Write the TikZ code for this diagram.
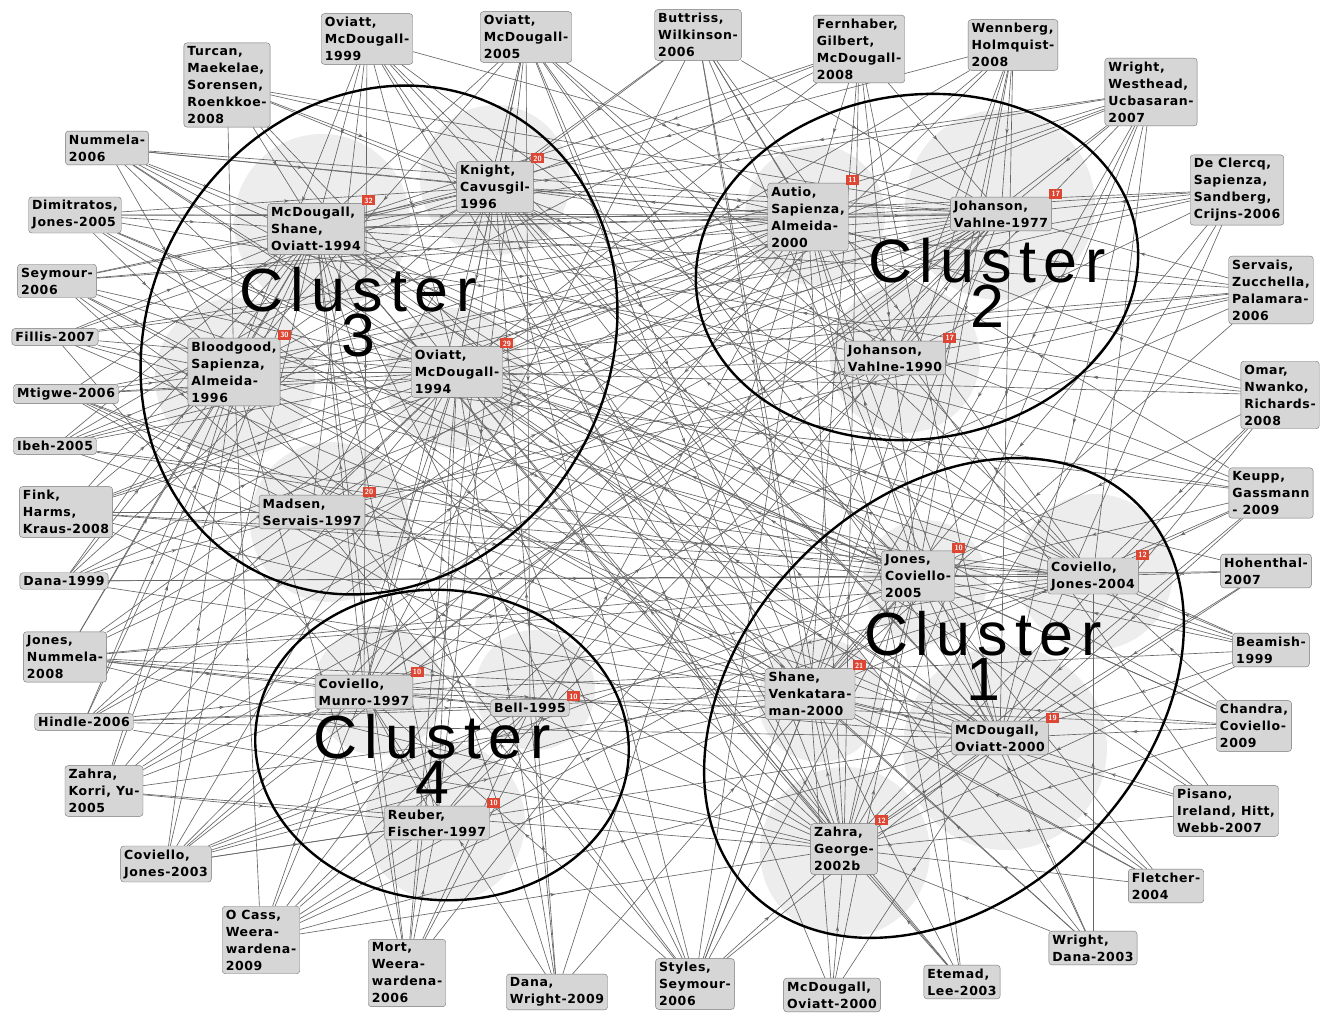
\documentclass[tikz,border=0pt]{standalone}
\usepackage{fontspec}
\usepackage{tikz}
\usetikzlibrary{arrows.meta,decorations.markings}
\newfontfamily\boxfont{DejaVu Sans}[LetterSpace=5]
\newfontfamily\clusterfont{Liberation Sans}[LetterSpace=12]
\definecolor{badgered}{RGB}{222,70,52}
\pgfdeclarelayer{halos}
\pgfdeclarelayer{links}
\pgfsetlayers{halos,links,main}
\tikzset{
  paper/.style={draw=black!55, fill=black!16, rounded corners=3pt, align=left, inner sep=3.5pt,
    font=\boxfont\bfseries\fontsize{12.5}{17}\selectfont},
  hits/.style={fill=badgered, text=white, inner sep=1pt, minimum width=13pt, minimum height=10pt,
    font=\sffamily\bfseries\fontsize{7.5}{7.5}\selectfont},
  cite/.style={draw=black!60, line width=0.65pt, postaction={decorate},
    decoration={markings, mark=at position 0.5 with {\arrow[black!60]{Stealth[length=5pt,width=3.5pt]}}}},
  halo/.style={fill=black!7},
  cluster/.style={draw=black, line width=2.4pt},
  clusterlabel/.style={align=center, inner sep=0pt, font=\clusterfont\fontsize{61}{45}\selectfont}
}

\begin{document}
\begin{tikzpicture}[x=1pt, y=-1pt]
			%%%%% START %%%%%
			\useasboundingbox (0,0) rectangle (1326,1014);
			
			%% cluster 3
			\node[paper] (mso) at (316,229) {McDougall,\\Shane,\\Oviatt-1994};
			\node[paper] (knig) at (495,187) {Knight,\\Cavusgil-\\1996};
			\node[paper] (bloo) at (234,372) {Bloodgood,\\Sapienza,\\Almeida-\\1996};
			\node[paper] (ov94) at (457,372) {Oviatt,\\McDougall-\\1994};
			\node[paper] (mads) at (312,512) {Madsen,\\Servais-1997};
			%% cluster 2
			\node[paper] (autio) at (808,217) {Autio,\\Sapienza,\\Almeida-\\2000};
			\node[paper] (jv77) at (1001,214) {Johanson,\\Vahlne-1977};
			\node[paper] (jv90) at (895,358) {Johanson,\\Vahlne-1990};
			%% cluster 1
			\node[paper] (jc05) at (918,576) {Jones,\\Coviello-\\2005};
			\node[paper] (cj04) at (1093,576) {Coviello,\\Jones-2004};
			\node[paper] (shan) at (810,694) {Shane,\\Venkatara-\\man-2000};
			\node[paper] (mo00) at (1000,738) {McDougall,\\Oviatt-2000};
			\node[paper] (zag) at (844,849) {Zahra,\\George-\\2002b};
			%% cluster 4
			\node[paper] (cmun) at (364,692) {Coviello,\\Munro-1997};
			\node[paper] (bell) at (530,708) {Bell-1995};
			\node[paper] (reub) at (437,823) {Reuber,\\Fischer-1997};
			
			%% citing papers
			\node[paper] (ov99) at (367,39) {Oviatt,\\McDougall-\\1999};
			\node[paper] (ov05) at (526,37) {Oviatt,\\McDougall-\\2005};
			\node[paper] (butt) at (698,35) {Buttriss,\\Wilkinson-\\2006};
			\node[paper] (fern) at (859,49) {Fernhaber,\\Gilbert,\\McDougall-\\2008};
			\node[paper] (wenn) at (1013,45) {Wennberg,\\Holmquist-\\2008};
			\node[paper] (wwu) at (1151,92) {Wright,\\Westhead,\\Ucbasaran-\\2007};
			\node[paper] (decl) at (1237,190) {De Clercq,\\Sapienza,\\Sandberg,\\Crijns-2006};
			\node[paper] (serv) at (1271,290) {Servais,\\Zucchella,\\Palamara-\\2006};
			\node[paper] (omar) at (1280,395) {Omar,\\Nwanko,\\Richards-\\2008};
			\node[paper] (keupp) at (1271,493) {Keupp,\\Gassmann\\- 2009};
			\node[paper] (hohen) at (1266,571) {Hohenthal-\\2007};
			\node[paper] (beam) at (1271,650) {Beamish-\\1999};
			\node[paper] (chan) at (1254,726) {Chandra,\\Coviello-\\2009};
			\node[paper] (pis) at (1226,811) {Pisano,\\Ireland, Hitt,\\Webb-2007};
			\node[paper] (flet) at (1166,886) {Fletcher-\\2004};
			\node[paper] (wda) at (1093,948) {Wright,\\Dana-2003};
			\node[paper] (etem) at (962,982) {Etemad,\\Lee-2003};
			\node[paper] (mob) at (832,995) {McDougall,\\Oviatt-2000};
			\node[paper] (styl) at (695,984) {Styles,\\Seymour-\\2006};
			\node[paper] (dwr) at (557,992) {Dana,\\Wright-2009};
			\node[paper] (mort) at (407,973) {Mort,\\Weera-\\wardena-\\2006};
			\node[paper] (ocass) at (261,940) {O Cass,\\Weera-\\wardena-\\2009};
			\node[paper] (cj03) at (166,864) {Coviello,\\Jones-2003};
			\node[paper] (zky) at (104,791) {Zahra,\\Korri, Yu-\\2005};
			\node[paper] (hind) at (84,722) {Hindle-2006};
			\node[paper] (jnum) at (65,657) {Jones,\\Nummela-\\2008};
			\node[paper] (dana) at (64,581) {Dana-1999};
			\node[paper] (fink) at (66,512) {Fink,\\Harms,\\Kraus-2008};
			\node[paper] (ibeh) at (55,446) {Ibeh-2005};
			\node[paper] (mtig) at (66,394) {Mtigwe-2006};
			\node[paper] (fill) at (55,337) {Fillis-2007};
			\node[paper] (seym) at (57,281) {Seymour-\\2006};
			\node[paper] (dimi) at (75,215) {Dimitratos,\\Jones-2005};
			\node[paper] (numm) at (107,148) {Nummela-\\2006};
			\node[paper] (turc) at (227,85) {Turcan,\\Maekelae,\\Sorensen,\\Roenkkoe-\\2008};
			
			%% citation counts
			\node[hits] at ([xshift=4pt,yshift=3pt]mso.north east) {32};
			\node[hits] at ([xshift=4pt,yshift=3pt]knig.north east) {20};
			\node[hits] at ([xshift=4pt,yshift=3pt]bloo.north east) {30};
			\node[hits] at ([xshift=4pt,yshift=3pt]ov94.north east) {29};
			\node[hits] at ([xshift=4pt,yshift=3pt]mads.north east) {20};
			\node[hits] at ([xshift=4pt,yshift=3pt]autio.north east) {11};
			\node[hits] at ([xshift=4pt,yshift=3pt]jv77.north east) {17};
			\node[hits] at ([xshift=4pt,yshift=3pt]jv90.north east) {17};
			\node[hits] at ([xshift=4pt,yshift=3pt]jc05.north east) {10};
			\node[hits] at ([xshift=4pt,yshift=3pt]cj04.north east) {12};
			\node[hits] at ([xshift=4pt,yshift=3pt]shan.north east) {21};
			\node[hits] at ([xshift=4pt,yshift=3pt]mo00.north east) {19};
			\node[hits] at ([xshift=4pt,yshift=3pt]zag.north east) {12};
			\node[hits] at ([xshift=4pt,yshift=3pt]cmun.north east) {10};
			\node[hits] at ([xshift=4pt,yshift=3pt]bell.north east) {10};
			\node[hits] at ([xshift=4pt,yshift=3pt]reub.north east) {10};
			
			%% clusters
			\draw[cluster, rotate around={60:(379,340)}] (379,340) ellipse [x radius=262pt, y radius=230pt];
			\draw[cluster, rotate around={8:(917,267)}] (917,267) ellipse [x radius=222pt, y radius=172pt];
			\draw[cluster, rotate around={45:(944,698)}] (944,698) ellipse [x radius=274pt, y radius=200pt];
			\draw[cluster, rotate around={-5:(442,745)}] (442,745) ellipse [x radius=187pt, y radius=155pt];
			\node[clusterlabel] (lab3) at (358,312) {Cluster\\3};
			\node[clusterlabel] (lab2) at (987,283) {Cluster\\2};
			\node[clusterlabel] (lab1) at (983,656) {Cluster\\1};
			\node[clusterlabel] (lab4) at (432,759) {Cluster\\4};
			
			\begin{pgfonlayer}{halos}
			\fill[halo] (322,222) circle (88pt);
			\fill[halo] (495,180) circle (75pt);
			\fill[halo] (235,378) circle (80pt);
			\fill[halo] (455,378) circle (70pt);
			\fill[halo] (330,522) circle (80pt);
			\fill[halo] (815,215) circle (70pt);
			\fill[halo] (1000,205) circle (95pt);
			\fill[halo] (905,358) circle (75pt);
			\fill[halo] (925,582) circle (62pt);
			\fill[halo] (1095,572) circle (78pt);
			\fill[halo] (820,700) circle (62pt);
			\fill[halo] (1005,748) circle (102pt);
			\fill[halo] (845,852) circle (85pt);
			\fill[halo] (378,690) circle (65pt);
			\fill[halo] (535,690) circle (60pt);
			\fill[halo] (445,822) circle (80pt);
			\end{pgfonlayer}
			
			\begin{pgfonlayer}{links}
			\draw (ov99) edge[cite] (mso) edge[cite] (bloo) edge[cite] (ov94) edge[cite] (mads) edge[cite] (jv77) edge[cite] (zag) edge[cite] (shan) edge[cite] (cmun) edge[cite] (jc05) edge[cite] (cj04) edge[cite] (mo00);
			\draw (ov05) edge[cite] (mso) edge[cite] (knig) edge[cite] (ov94) edge[cite] (bloo) edge[cite] (autio) edge[cite] (jv90) edge[cite] (mo00) edge[cite] (shan) edge[cite] (reub) edge[cite] (zag) edge[cite] (jc05) edge[cite] (cj04) edge[cite] (cmun) edge[cite] (bell);
			\draw (butt) edge[cite] (jv77) edge[cite] (jv90) edge[cite] (mo00) edge[cite] (autio) edge[cite] (bloo) edge[cite] (knig) edge[cite] (zag) edge[cite] (shan) edge[cite] (cj04) edge[cite] (cmun);
			\draw (fern) edge[cite] (autio) edge[cite] (jv77) edge[cite] (mso) edge[cite] (ov94) edge[cite] (knig) edge[cite] (mo00) edge[cite] (bloo) edge[cite] (shan) edge[cite] (zag) edge[cite] (jc05);
			\draw (wenn) edge[cite] (jv77) edge[cite] (jv90) edge[cite] (autio) edge[cite] (mso) edge[cite] (ov94) edge[cite] (shan) edge[cite] (mo00) edge[cite] (zag) edge[cite] (jc05) edge[cite] (cmun);
			\draw (wwu) edge[cite] (autio) edge[cite] (jv77) edge[cite] (jv90) edge[cite] (mso) edge[cite] (ov94) edge[cite] (shan) edge[cite] (zag) edge[cite] (mo00) edge[cite] (knig) edge[cite] (jc05) edge[cite] (cj04) edge[cite] (bloo) edge[cite] (cmun);
			\draw (decl) edge[cite] (jv77) edge[cite] (autio) edge[cite] (ov94) edge[cite] (jv90) edge[cite] (mo00) edge[cite] (mso) edge[cite] (bloo) edge[cite] (shan) edge[cite] (zag);
			\draw (serv) edge[cite] (jv77) edge[cite] (mads) edge[cite] (ov94) edge[cite] (bloo) edge[cite] (jv90) edge[cite] (shan) edge[cite] (mso) edge[cite] (cmun) edge[cite] (knig);
			\draw (omar) edge[cite] (cj04) edge[cite] (jc05) edge[cite] (mso) edge[cite] (ov94) edge[cite] (jv90) edge[cite] (mo00) edge[cite] (zag) edge[cite] (autio);
			\draw (keupp) edge[cite] (ov94) edge[cite] (mso) edge[cite] (jc05) edge[cite] (cj04) edge[cite] (autio) edge[cite] (knig) edge[cite] (mo00) edge[cite] (shan) edge[cite] (zag) edge[cite] (bloo);
			\draw (hohen) edge[cite] (cj04) edge[cite] (jc05) edge[cite] (mo00) edge[cite] (zag) edge[cite] (ov94);
			\draw (beam) edge[cite] (jc05) edge[cite] (mso) edge[cite] (ov94) edge[cite] (bloo) edge[cite] (cj04) edge[cite] (mo00) edge[cite] (zag) edge[cite] (cmun);
			\draw (chan) edge[cite] (mo00) edge[cite] (cj04) edge[cite] (jc05) edge[cite] (shan) edge[cite] (zag) edge[cite] (cmun) edge[cite] (ov94) edge[cite] (mso);
			\draw (pis) edge[cite] (mo00) edge[cite] (zag) edge[cite] (shan) edge[cite] (mso) edge[cite] (jc05) edge[cite] (autio);
			\draw (flet) edge[cite] (mo00) edge[cite] (zag) edge[cite] (shan) edge[cite] (jc05) edge[cite] (ov94) edge[cite] (bloo);
			\draw (wda) edge[cite] (mo00) edge[cite] (zag) edge[cite] (jc05) edge[cite] (shan) edge[cite] (cj04) edge[cite] (knig) edge[cite] (ov94);
			\draw (etem) edge[cite] (zag) edge[cite] (mso) edge[cite] (ov94) edge[cite] (shan) edge[cite] (jc05) edge[cite] (autio);
			\draw (mob) edge[cite] (zag) edge[cite] (shan) edge[cite] (mo00) edge[cite] (jc05) edge[cite] (knig);
			\draw (styl) edge[cite] (bloo) edge[cite] (mso) edge[cite] (ov94) edge[cite] (cmun) edge[cite] (shan) edge[cite] (zag) edge[cite] (knig) edge[cite] (mads) edge[cite] (autio) edge[cite] (jv77) edge[cite] (jv90) edge[cite] (mo00) edge[cite] (jc05);
			\draw (dwr) edge[cite] (cmun) edge[cite] (bell) edge[cite] (mso) edge[cite] (jc05) edge[cite] (ov94) edge[cite] (knig) edge[cite] (autio);
			\draw (mort) edge[cite] (cmun) edge[cite] (reub) edge[cite] (bell) edge[cite] (mso) edge[cite] (ov94) edge[cite] (knig) edge[cite] (jv77) edge[cite] (autio) edge[cite] (bloo);
			\draw (ocass) edge[cite] (cmun) edge[cite] (reub) edge[cite] (bell) edge[cite] (bloo) edge[cite] (ov94) edge[cite] (zag) edge[cite] (shan) edge[cite] (jv77) edge[cite] (autio) edge[cite] (jc05) edge[cite] (mo00);
			\draw (cj03) edge[cite] (cmun) edge[cite] (bell) edge[cite] (reub) edge[cite] (ov94) edge[cite] (jc05) edge[cite] (mso) edge[cite] (bloo) edge[cite] (shan) edge[cite] (autio) edge[cite] (jv77) edge[cite] (mo00) edge[cite] (cj04);
			\draw (zky) edge[cite] (cmun) edge[cite] (reub) edge[cite] (ov94) edge[cite] (mso) edge[cite] (bloo) edge[cite] (jv77) edge[cite] (zag) edge[cite] (autio) edge[cite] (jv90) edge[cite] (shan);
			\draw (hind) edge[cite] (cmun) edge[cite] (bell) edge[cite] (ov94) edge[cite] (bloo) edge[cite] (shan) edge[cite] (mso) edge[cite] (jv77) edge[cite] (autio) edge[cite] (mo00) edge[cite] (zag);
			\draw (jnum) edge[cite] (cmun) edge[cite] (bell) edge[cite] (ov94) edge[cite] (mso) edge[cite] (bloo) edge[cite] (jv77) edge[cite] (jc05) edge[cite] (cj04) edge[cite] (mo00) edge[cite] (zag) edge[cite] (shan) edge[cite] (autio);
			\draw (dana) edge[cite] (ov94) edge[cite] (mso) edge[cite] (bloo) edge[cite] (mads) edge[cite] (knig) edge[cite] (jv77) edge[cite] (cj04) edge[cite] (jc05) edge[cite] (shan);
			\draw (fink) edge[cite] (ov94) edge[cite] (mso) edge[cite] (bloo) edge[cite] (jv77) edge[cite] (cj04) edge[cite] (mads) edge[cite] (autio) edge[cite] (mo00) edge[cite] (zag) edge[cite] (jc05);
			\draw (ibeh) edge[cite] (ov94) edge[cite] (mso) edge[cite] (bloo) edge[cite] (jc05) edge[cite] (shan) edge[cite] (knig) edge[cite] (jv77) edge[cite] (autio) edge[cite] (cj04);
			\draw (mtig) edge[cite] (ov94) edge[cite] (mso) edge[cite] (bloo) edge[cite] (jv77) edge[cite] (jv90) edge[cite] (mads) edge[cite] (zag) edge[cite] (shan) edge[cite] (mo00);
			\draw (fill) edge[cite] (ov94) edge[cite] (mso) edge[cite] (bloo) edge[cite] (jc05) edge[cite] (knig) edge[cite] (cmun) edge[cite] (jv77) edge[cite] (autio) edge[cite] (mo00);
			\draw (seym) edge[cite] (ov94) edge[cite] (mso) edge[cite] (bloo) edge[cite] (knig) edge[cite] (jv77) edge[cite] (autio) edge[cite] (mads) edge[cite] (jc05) edge[cite] (shan) edge[cite] (zag);
			\draw (dimi) edge[cite] (mso) edge[cite] (ov94) edge[cite] (bloo) edge[cite] (knig) edge[cite] (mo00) edge[cite] (shan) edge[cite] (jv90) edge[cite] (jv77) edge[cite] (autio) edge[cite] (jc05);
			\draw (numm) edge[cite] (mso) edge[cite] (ov94) edge[cite] (knig) edge[cite] (bloo) edge[cite] (mo00) edge[cite] (zag) edge[cite] (jv77) edge[cite] (autio) edge[cite] (jc05) edge[cite] (cj04);
			\draw (turc) edge[cite] (mso) edge[cite] (ov94) edge[cite] (knig) edge[cite] (autio) edge[cite] (jv77) edge[cite] (bloo) edge[cite] (jv90) edge[cite] (shan);
			%% among the cited papers
			\draw (mso) edge[cite] (jv77);
			\draw (knig) edge[cite] (ov94) edge[cite] (mso) edge[cite] (jv77);
			\draw (bloo) edge[cite] (mso) edge[cite] (ov94);
			\draw (mads) edge[cite] (ov94) edge[cite] (jv90) edge[cite] (knig);
			\draw (autio) edge[cite] (ov94) edge[cite] (mso) edge[cite] (jv77) edge[cite] (knig);
			\draw (jv90) edge[cite] (jv77);
			\draw (jc05) edge[cite] (ov94) edge[cite] (knig) edge[cite] (autio) edge[cite] (cj04) edge[cite] (shan) edge[cite] (zag);
			\draw (cj04) edge[cite] (ov94) edge[cite] (knig) edge[cite] (cmun) edge[cite] (bell) edge[cite] (mads) edge[cite] (jv90);
			\draw (mo00) edge[cite] (ov94) edge[cite] (mso) edge[cite] (knig) edge[cite] (autio) edge[cite] (shan);
			\draw (zag) edge[cite] (autio) edge[cite] (mso) edge[cite] (ov94) edge[cite] (knig) edge[cite] (shan) edge[cite] (mo00);
			\draw (cmun) edge[cite] (bell) edge[cite] (jv77) edge[cite] (ov94) edge[cite] (mso);
			\draw (reub) edge[cite] (bell) edge[cite] (cmun) edge[cite] (ov94) edge[cite] (mso) edge[cite] (jv90);
			\draw (bell) edge[cite] (jv77);
			\end{pgfonlayer}
			%%%%% END %%%%%
\end{tikzpicture}
\end{document}
